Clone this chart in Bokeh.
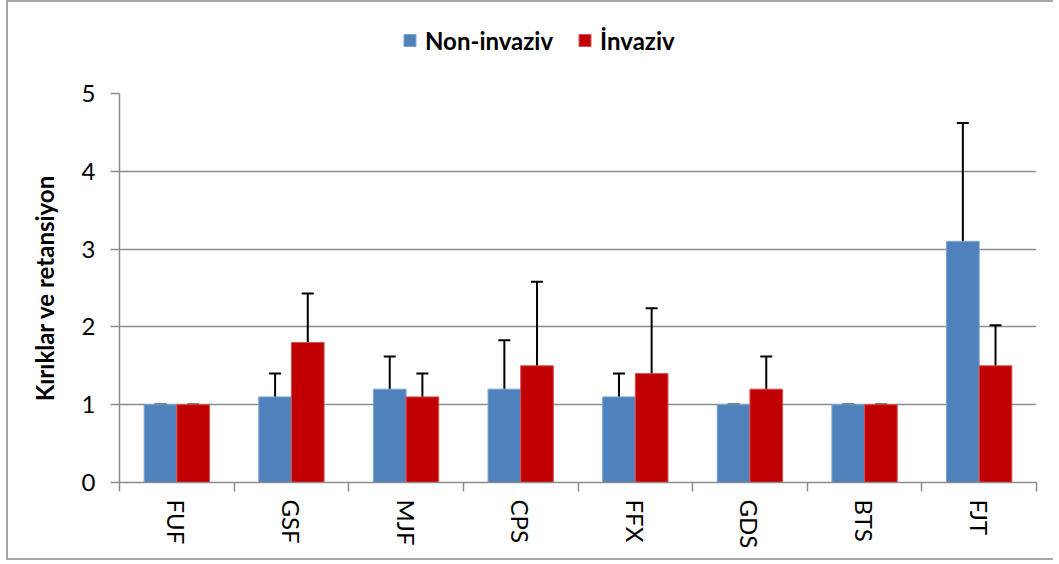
from bokeh.plotting import figure
from bokeh.layouts import column
from bokeh.models import (ColumnDataSource, Range1d, LinearAxis,
                          FixedTicker, Whisker, TeeHead, Legend, LegendItem)
from bokeh.transform import dodge
from bokeh.embed import file_html
from bokeh.resources import INLINE

categories = ["FUF", "GSF", "MJF", "CPS", "FFX", "GDS", "BTS", "FJT"]
non_invaziv = [1.0, 1.1, 1.2, 1.2, 1.1, 1.0, 1.0, 3.1]
non_invaziv_err = [0.0, 0.3, 0.42, 0.63, 0.3, 0.0, 0.0, 1.52]
invaziv = [1.0, 1.8, 1.1, 1.5, 1.4, 1.2, 1.0, 1.5]
invaziv_err = [0.0, 0.63, 0.3, 1.08, 0.84, 0.42, 0.0, 0.52]
y_ticks = [0, 1, 2, 3, 4, 5]
series_names = ["Non-invaziv", "İnvaziv"]
y_title = "Kırıklar ve retansiyon"

BLUE = "#4F81BD"
RED = "#C00000"
GRID = "#8c8c8c"
FONT = "Lato"

n = len(categories)
centers = [i + 0.5 for i in range(n)]

src = ColumnDataSource(dict(
    x=centers,
    a=non_invaziv,
    a_lo=[v - e for v, e in zip(non_invaziv, non_invaziv_err)],
    a_hi=[v + e for v, e in zip(non_invaziv, non_invaziv_err)],
    b=invaziv,
    b_lo=[v - e for v, e in zip(invaziv, invaziv_err)],
    b_hi=[v + e for v, e in zip(invaziv, invaziv_err)],
))

W = 1045
LEG_H = 76
P_H = 480

# ---- legend strip (a small figure above the chart; its ranges keep the proxy bars out of view) ----
lf = figure(width=W, height=LEG_H, output_backend="svg", toolbar_location=None,
            x_range=Range1d(0, n), y_range=Range1d(y_ticks[-1] * 10, y_ticks[-1] * 11),
            x_axis_location=None, y_axis_location=None, min_border=0)
lf.outline_line_color = None
lf.xgrid.grid_line_color = None
lf.ygrid.grid_line_color = None
lf.border_fill_color = "white"
lf.background_fill_color = "white"
lr1 = lf.vbar(x="x", top="a", width=0.285, source=src, fill_color=BLUE, line_color="#7fa3d1")
lr2 = lf.vbar(x="x", top="b", width=0.285, source=src, fill_color=RED, line_color="#d65050")
legend = Legend(items=[LegendItem(label=series_names[0], renderers=[lr1]),
                       LegendItem(label=series_names[1], renderers=[lr2])],
                orientation="horizontal", location="center_left",
                glyph_width=15, glyph_height=15, label_standoff=8, spacing=24,
                padding=0, margin=283, border_line_color=None, background_fill_alpha=0,
                label_text_font=FONT, label_text_font_size="24px", label_text_font_style="bold",
                label_text_color="black")
lf.add_layout(legend, "center")

# ---- main chart ----
p = figure(x_range=Range1d(0, n),
           y_range=Range1d(y_ticks[0], y_ticks[-1]),
           width=W, height=P_H, output_backend="svg", toolbar_location=None,
           x_axis_location=None, y_axis_location="left",
           min_border_left=111, min_border_right=17, min_border_top=15, min_border_bottom=76)
p.outline_line_color = None
p.background_fill_color = "white"
p.border_fill_color = "white"

bw = 0.285
r1 = p.vbar(x=dodge("x", -bw / 2), top="a", width=bw, source=src,
            fill_color=BLUE, line_color="#7fa3d1", line_width=1)
r2 = p.vbar(x=dodge("x", bw / 2), top="b", width=bw, source=src,
            fill_color=RED, line_color="#d65050", line_width=1)

for xo, lo, hi in [(-bw / 2, "a_lo", "a_hi"), (bw / 2, "b_lo", "b_hi")]:
    w = Whisker(base=dodge("x", xo), lower=lo, upper=hi, source=src,
                line_color="black", line_width=2,
                upper_head=TeeHead(size=12, line_color="black", line_width=2),
                lower_head=TeeHead(size=12, line_color="black", line_width=2))
    p.add_layout(w)

# y axis
p.yaxis.ticker = FixedTicker(ticks=y_ticks)
p.yaxis.minor_tick_line_color = None
p.yaxis.major_tick_out = 9
p.yaxis.major_tick_in = 0
p.yaxis.axis_line_color = GRID
p.yaxis.axis_line_width = 1.5
p.yaxis.major_tick_line_color = GRID
p.yaxis.major_tick_line_width = 1.5
p.yaxis.major_label_text_font = FONT
p.yaxis.major_label_text_font_size = "24px"
p.yaxis.major_label_text_color = "black"
p.yaxis.major_label_standoff = 15
p.yaxis.axis_label = y_title
p.yaxis.axis_label_text_font = FONT
p.yaxis.axis_label_text_font_size = "24px"
p.yaxis.axis_label_text_font_style = "bold"
p.yaxis.axis_label_text_color = "black"
p.yaxis.axis_label_standoff = 20

p.xgrid.grid_line_color = None
p.ygrid.ticker = FixedTicker(ticks=y_ticks)
p.ygrid.grid_line_color = GRID
p.ygrid.grid_line_width = 1.5

# x axis: boundary ticks (Excel style)
edge_axis = LinearAxis(ticker=FixedTicker(ticks=list(range(n + 1))))
edge_axis.axis_line_color = GRID
edge_axis.axis_line_width = 1.5
edge_axis.major_tick_line_color = GRID
edge_axis.major_tick_line_width = 1.5
edge_axis.major_tick_out = 9
edge_axis.major_tick_in = 0
edge_axis.minor_tick_line_color = None
edge_axis.major_label_text_alpha = 0
edge_axis.major_label_text_font_size = "1px"
edge_axis.major_label_standoff = 0
p.add_layout(edge_axis, "below")

# category labels at the centres
cat_axis = LinearAxis(ticker=FixedTicker(ticks=centers),
                      major_label_overrides={c: name for c, name in zip(centers, categories)})
cat_axis.axis_line_color = None
cat_axis.major_tick_line_color = None
cat_axis.minor_tick_line_color = None
cat_axis.major_tick_out = 0
cat_axis.major_label_orientation = "vertical"
cat_axis.major_label_text_font = FONT
cat_axis.major_label_text_font_size = "24px"
cat_axis.major_label_text_color = "black"
cat_axis.major_label_standoff = 8
p.add_layout(cat_axis, "below")

layout = column(lf, p, spacing=0,
                styles={"border-left": "2px solid #a6a6a6", "border-top": "2px solid #a6a6a6",
                        "border-bottom": "2px solid #a6a6a6", "margin-left": "6px",
                        "background-color": "white"})

open("out.html", "w").write(file_html(layout, INLINE))
